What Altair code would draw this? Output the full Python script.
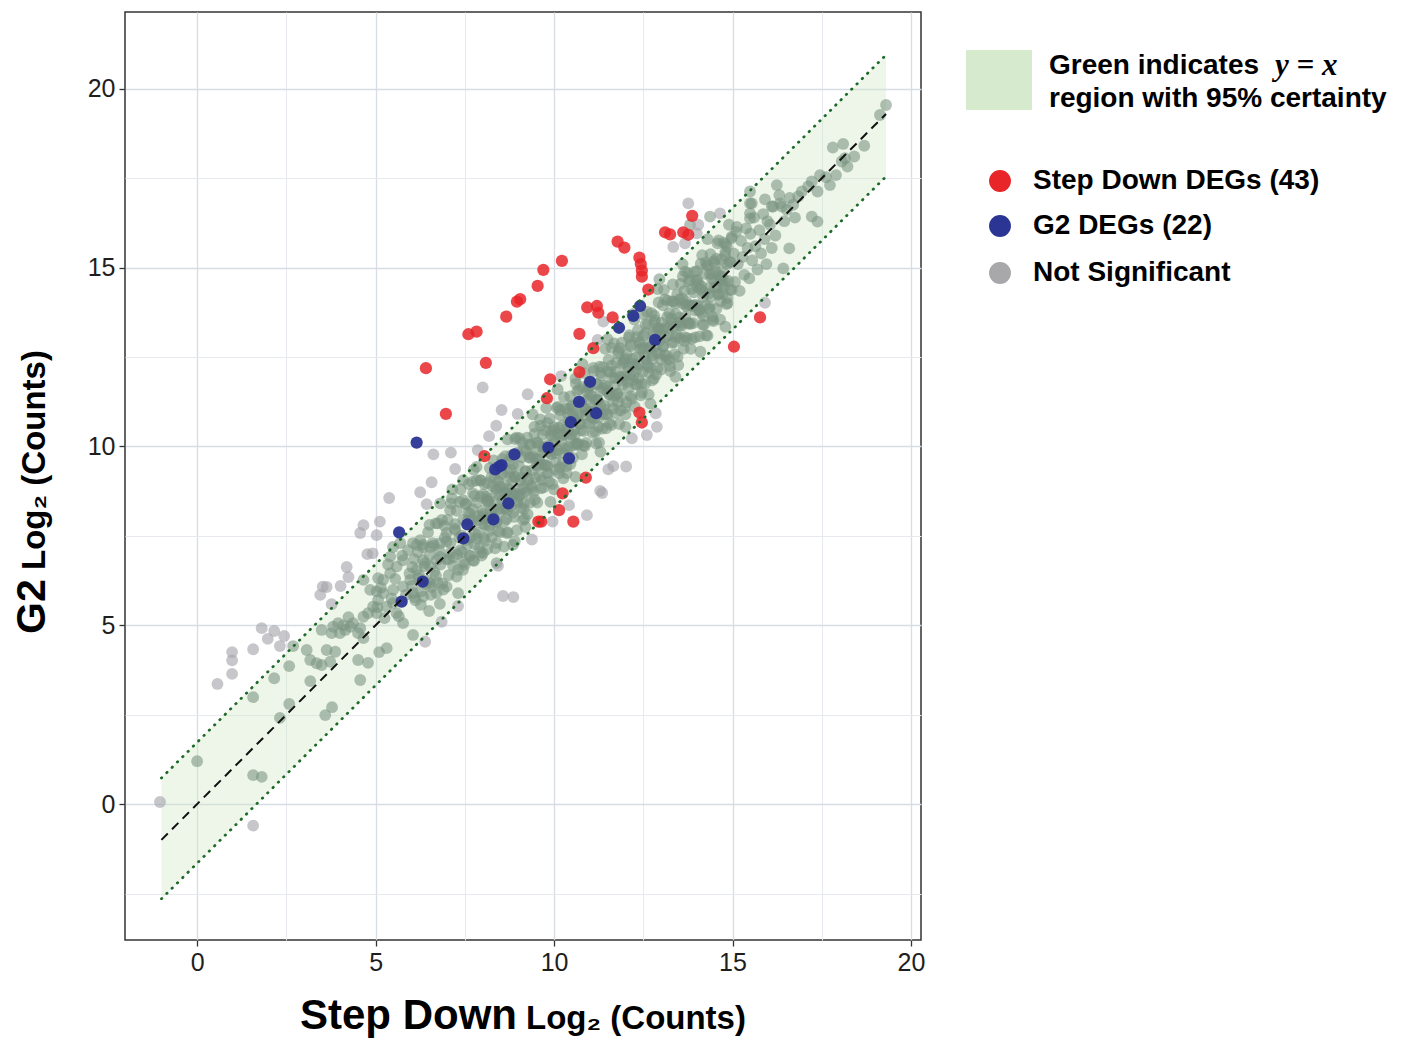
import altair as alt
import pandas as pd

FONT = "Liberation Sans"

# ---------------- axes ----------------
X_DOMAIN = [-2.02, 20.28]
Y_DOMAIN = [-3.8, 22.15]
X_TICKS = [0, 2.5, 5, 7.5, 10, 12.5, 15, 17.5, 20]
Y_TICKS = [-2.5, 0, 2.5, 5, 7.5, 10, 12.5, 15, 17.5, 20]

# ---------------- y = x band ----------------
BAND_X = [-1.0, 19.3]
BAND_LO = [-2.65, 17.55]
BAND_HI = [0.73, 20.95]
DIAG_Y = [-1.0, 19.3]

# ---------------- DEGs ----------------
STEP_DOWN_DEGS = [
    (6.41, 12.19), (6.97, 10.91), (7.60, 13.14), (7.83, 13.21), (8.09, 12.34),
    (8.66, 13.63), (8.96, 14.05), (9.05, 14.12), (9.54, 14.49), (9.70, 14.94),
    (10.22, 15.19), (10.71, 13.15), (10.93, 13.89), (11.20, 13.93), (11.24, 13.74),
    (11.64, 13.61), (11.10, 12.75), (10.71, 12.08), (9.89, 11.88), (9.80, 11.35),
    (8.05, 9.73), (10.89, 9.13), (10.24, 8.69), (10.14, 8.22), (10.54, 7.90),
    (9.56, 7.90), (9.64, 7.90), (12.39, 10.95), (12.46, 10.67), (11.78, 15.73),
    (11.97, 15.56), (12.39, 15.28), (12.43, 15.10), (12.46, 14.92), (12.46, 14.75),
    (12.64, 14.39), (13.11, 15.99), (13.25, 15.93), (13.62, 15.99), (13.76, 15.92),
    (13.87, 16.45), (15.77, 13.61), (15.04, 12.79),
]
G2_DEGS = [
    (6.15, 10.11), (5.66, 7.60), (12.41, 13.93), (12.22, 13.65), (11.82, 13.32),
    (12.83, 12.98), (11.01, 11.81), (10.70, 11.25), (11.18, 10.93), (10.47, 10.68),
    (9.84, 9.97), (8.89, 9.78), (8.53, 9.48), (8.35, 9.36), (8.47, 9.44),
    (10.42, 9.67), (8.72, 8.41), (8.30, 7.96), (7.57, 7.82), (7.46, 7.43),
    (6.32, 6.22), (5.73, 5.66),
]

# ---------------- not significant, outside the band ----------------
NS_OUTSIDE = [
    (-1.04, 0.06), (1.57, -0.60), (0.57, 3.36), (0.98, 3.64), (0.98, 4.02), (0.98, 4.25),
    (1.57, 4.33), (1.81, 4.92), (2.16, 4.84), (1.98, 4.62), (2.44, 4.70), (2.32, 4.42),
    (3.52, 6.08), (3.63, 6.07), (3.45, 5.85), (3.77, 5.59), (4.19, 6.63), (4.24, 6.35),
    (4.02, 6.10), (4.57, 7.58), (4.66, 7.80), (5.12, 7.90), (5.03, 7.52), (4.77, 6.99),
    (4.92, 7.01), (5.38, 8.56), (6.25, 8.72), (6.57, 9.00), (6.43, 8.39), (7.23, 9.37),
    (8.57, 5.82), (8.86, 5.79), (6.39, 4.54), (6.85, 5.10), (7.31, 5.54), (8.43, 6.66),
    (8.00, 11.65), (9.26, 11.46), (8.53, 11.02), (8.38, 10.58), (8.18, 10.29), (7.86, 9.90),
    (7.11, 9.83), (6.62, 9.78), (10.20, 11.97), (11.22, 12.98), (11.38, 13.49),
    (13.34, 15.58), (13.67, 15.68), (13.76, 16.80), (14.04, 16.20), (14.65, 16.52),
    (14.00, 15.96), (15.91, 14.02), (11.66, 9.45), (11.52, 9.36), (12.02, 9.44),
    (12.60, 10.32), (12.88, 10.55), (12.85, 10.93), (12.18, 10.23), (11.29, 8.76),
    (11.35, 8.70), (10.42, 8.36), (10.92, 8.08), (9.96, 7.90), (9.38, 7.40), (8.98, 10.91),
]

# ---------------- not significant, inside the band ----------------
NS_BAND_LOW = [
    (0.00, 1.20), (1.57, 0.81), (1.81, 0.76), (2.32, 2.41), (2.58, 2.80), (1.57, 2.99),
    (3.59, 2.49), (3.78, 2.71), (2.16, 3.52), (2.69, 4.42), (2.58, 3.86), (3.17, 3.44),
    (3.07, 4.31), (3.17, 4.03), (3.35, 3.94), (3.49, 3.89), (3.73, 3.98), (3.63, 4.31),
    (3.87, 4.26), (3.77, 4.78), (3.49, 4.87), (4.00, 4.78), (4.10, 5.00), (4.29, 4.96),
    (4.57, 4.92), (4.66, 4.64), (4.24, 5.23), (4.57, 3.47), (4.51, 4.03), (4.79, 3.95),
    (5.10, 4.25), (5.31, 4.36), (3.81, 4.96), (3.95, 5.06), (4.15, 4.87), (4.37, 5.06),
    (4.51, 4.78), (4.66, 5.24), (4.79, 5.34), (4.93, 5.52), (5.07, 5.71), (5.21, 5.90),
    (5.03, 5.34), (5.31, 5.52), (5.49, 5.62), (5.59, 5.34), (5.77, 5.06), (6.05, 4.73),
    (6.50, 5.40), (6.80, 5.60),
]
NS_BAND_5_8 = [
    (4.66, 6.27), (4.85, 5.99), (5.07, 6.32), (5.03, 5.95), (5.21, 6.27), (5.41, 6.46),
    (5.59, 6.64), (5.77, 6.82), (5.91, 7.10), (6.05, 7.30), (6.25, 7.38), (6.33, 6.82),
    (6.53, 6.64), (6.71, 6.82), (6.53, 7.19), (6.81, 7.30), (6.99, 7.58), (7.23, 7.66),
    (7.09, 7.02), (7.37, 7.10), (6.15, 6.55), (5.97, 6.27), (5.77, 6.08), (5.49, 5.99),
    (6.05, 5.90), (6.33, 5.80), (6.71, 5.90), (6.99, 6.08), (6.53, 6.18), (7.27, 6.36),
    (7.45, 6.55), (7.31, 5.90), (7.73, 6.82), (8.01, 7.02), (8.39, 7.30), (8.68, 7.58),
    (8.96, 7.66), (9.13, 7.94), (8.85, 7.25), (8.39, 6.74), (5.69, 7.30), (5.49, 7.19),
    (5.41, 6.92), (7.09, 8.22), (7.45, 8.50), (7.73, 8.69), (7.93, 9.06), (7.45, 9.06),
    (7.15, 8.80), (8.12, 8.50), (8.39, 8.78), (8.85, 9.06), (9.13, 8.69), (8.68, 8.22),
    (8.01, 8.04), (7.65, 8.13), (6.81, 8.41), (7.75, 9.35), (7.83, 9.43),
    (5.05, 5.50), (5.15, 6.05), (5.25, 5.20), (5.35, 6.70), (5.45, 5.75), (5.55, 6.30),
    (5.65, 5.25), (5.75, 6.95), (5.85, 5.85), (5.95, 6.45),
    (6.02, 6.10), (6.08, 6.85), (6.12, 5.70), (6.18, 7.05), (6.22, 6.40), (6.28, 5.95),
    (6.33, 7.25), (6.37, 6.65), (6.42, 6.15), (6.47, 7.60), (6.51, 6.95), (6.55, 5.85),
    (6.60, 7.30), (6.64, 6.50), (6.69, 7.85), (6.73, 6.20), (6.78, 7.10), (6.82, 6.70),
    (6.86, 7.95), (6.90, 6.00), (6.94, 7.45), (6.98, 6.85),
    (7.02, 7.95), (7.05, 6.40), (7.10, 7.30), (7.14, 8.55), (7.18, 6.90), (7.22, 7.70),
    (7.27, 8.20), (7.31, 6.55), (7.35, 7.45), (7.38, 8.80), (7.42, 7.05), (7.46, 7.95),
    (7.50, 6.70), (7.53, 8.40), (7.57, 7.25), (7.61, 8.95), (7.64, 6.95), (7.68, 7.80),
    (7.72, 8.25), (7.76, 6.80), (7.80, 7.55), (7.83, 9.05), (7.87, 8.05), (7.90, 7.15),
    (7.94, 8.60), (7.97, 6.95), (7.99, 7.85),
]
NS_BAND_6_9_FILL = [
    (6.03, 6.63), (6.09, 5.79), (6.15, 7.25), (6.21, 6.31), (6.27, 5.57), (6.33, 7.18),
    (6.39, 6.74), (6.45, 6.25), (6.51, 7.81), (6.57, 6.07), (6.63, 7.23), (6.69, 6.39),
    (6.75, 7.85), (6.81, 6.91), (6.87, 6.17), (6.93, 7.78), (6.99, 7.34), (7.05, 6.85),
    (7.11, 8.41), (7.17, 6.67), (7.23, 7.83), (7.29, 6.99), (7.35, 8.45), (7.41, 7.51),
    (7.47, 6.77), (7.53, 8.38), (7.59, 7.94), (7.65, 7.45), (7.71, 9.01), (7.77, 7.27),
    (7.83, 8.43), (7.89, 7.59), (7.95, 9.05), (8.01, 8.11), (8.07, 7.37), (8.13, 8.98),
    (8.19, 8.54), (8.25, 8.05), (8.31, 9.61), (8.37, 7.87), (8.43, 9.03), (8.49, 8.19),
    (8.55, 9.65), (8.61, 8.71), (8.67, 7.97), (8.73, 9.58), (8.79, 9.14), (8.85, 8.65),
    (8.91, 10.21), (8.97, 8.47),
]
NS_BAND_8_10 = [
    (8.00, 8.20), (8.03, 7.43), (8.05, 8.95), (8.08, 7.98), (8.10, 8.60), (8.13, 7.13),
    (8.15, 8.45), (8.18, 7.78), (8.20, 9.40), (8.23, 8.23), (8.25, 7.45), (8.28, 8.88),
    (8.30, 8.00), (8.33, 9.13), (8.35, 7.15), (8.38, 8.48), (8.40, 7.90), (8.43, 9.43),
    (8.45, 8.25), (8.48, 8.88), (8.50, 7.60), (8.53, 9.23), (8.55, 8.50), (8.58, 8.93),
    (8.60, 7.90), (8.63, 9.73), (8.65, 8.30), (8.68, 8.83), (8.70, 7.60), (8.73, 9.28),
    (8.75, 8.80), (8.78, 8.33), (8.80, 9.75), (8.83, 8.68), (8.85, 9.50), (8.88, 8.03),
    (8.90, 9.15), (8.93, 8.68), (8.95, 10.25), (8.98, 8.43),
    (9.00, 8.60), (9.03, 10.23), (9.05, 9.05), (9.08, 8.28), (9.10, 9.70), (9.13, 8.83),
    (9.15, 9.95), (9.18, 7.98), (9.20, 9.30), (9.23, 8.73), (9.25, 10.25), (9.28, 9.08),
    (9.30, 9.70), (9.33, 8.43), (9.35, 10.05), (9.38, 9.33), (9.40, 9.75), (9.43, 8.73),
    (9.45, 10.55), (9.48, 9.13), (9.50, 9.65), (9.53, 8.43), (9.55, 10.10), (9.58, 9.63),
    (9.60, 9.15), (9.63, 10.58), (9.65, 9.50), (9.68, 10.33), (9.70, 8.85), (9.73, 9.98),
    (9.75, 9.50), (9.78, 11.08), (9.80, 9.25), (9.83, 10.03), (9.85, 9.25), (9.88, 10.78),
    (9.90, 9.80), (9.93, 10.43), (9.95, 8.95), (9.98, 10.28),
]
NS_BAND_10_12 = [
    (10.00, 8.80), (10.03, 10.13), (10.05, 9.55), (10.08, 11.08), (10.10, 9.90), (10.13, 10.53),
    (10.15, 9.25), (10.18, 10.88), (10.20, 10.15), (10.23, 10.58), (10.25, 9.55), (10.28, 11.38),
    (10.30, 9.95), (10.33, 10.48), (10.35, 9.25), (10.38, 10.93), (10.40, 10.45), (10.43, 9.98),
    (10.45, 11.40), (10.48, 10.33), (10.50, 11.15), (10.53, 9.68), (10.55, 10.80), (10.58, 10.33),
    (10.60, 11.90), (10.63, 10.08), (10.65, 10.85), (10.68, 10.08), (10.70, 11.60), (10.73, 10.63),
    (10.75, 11.25), (10.78, 9.78), (10.80, 11.10), (10.83, 10.43), (10.85, 12.05), (10.88, 10.88),
    (10.90, 10.10), (10.93, 11.53), (10.95, 10.65), (10.98, 11.78),
    (11.00, 11.70), (11.03, 10.98), (11.05, 11.40), (11.08, 10.38), (11.10, 12.20), (11.13, 10.78),
    (11.15, 11.30), (11.18, 10.08), (11.20, 11.75), (11.23, 11.28), (11.25, 10.80), (11.28, 12.23),
    (11.30, 11.15), (11.33, 11.98), (11.35, 10.50), (11.38, 11.63), (11.40, 11.15), (11.43, 12.73),
    (11.45, 10.90), (11.48, 11.68), (11.50, 10.90), (11.53, 12.43), (11.55, 11.45), (11.58, 12.08),
    (11.60, 10.60), (11.63, 11.93), (11.65, 11.25), (11.68, 12.88), (11.70, 11.70), (11.73, 10.93),
    (11.75, 12.35), (11.78, 11.48), (11.80, 12.60), (11.83, 10.63), (11.85, 11.95), (11.88, 11.38),
    (11.90, 12.90), (11.93, 11.73), (11.95, 12.35), (11.98, 11.08),
]
NS_BAND_12_14 = [
    (12.00, 10.90), (12.03, 12.58), (12.05, 12.10), (12.08, 11.63), (12.10, 13.05), (12.13, 11.98),
    (12.15, 12.80), (12.18, 11.33), (12.20, 12.45), (12.23, 11.98), (12.25, 13.55), (12.28, 11.73),
    (12.30, 12.50), (12.33, 11.73), (12.35, 13.25), (12.38, 12.28), (12.40, 12.90), (12.43, 11.43),
    (12.45, 12.75), (12.48, 12.08), (12.50, 13.70), (12.53, 12.53), (12.55, 11.75), (12.58, 13.18),
    (12.60, 12.30), (12.63, 13.43), (12.65, 11.45), (12.68, 12.78), (12.70, 12.20), (12.73, 13.73),
    (12.75, 12.55), (12.78, 13.18), (12.80, 11.90), (12.83, 13.53), (12.85, 12.80), (12.88, 13.23),
    (12.90, 12.20), (12.93, 14.03), (12.95, 12.60), (12.98, 13.13),
    (13.00, 12.15), (13.03, 13.28), (13.05, 12.80), (13.08, 14.38), (13.10, 12.55), (13.13, 13.33),
    (13.15, 12.55), (13.18, 14.08), (13.20, 13.10), (13.23, 13.73), (13.25, 12.25), (13.28, 13.58),
    (13.30, 12.90), (13.33, 14.53), (13.35, 13.35), (13.38, 12.58), (13.40, 14.00), (13.43, 13.13),
    (13.45, 14.25), (13.48, 12.28), (13.50, 13.60), (13.53, 13.03), (13.55, 14.55), (13.58, 13.38),
    (13.60, 14.00), (13.63, 12.73), (13.65, 14.35), (13.68, 13.63), (13.70, 14.05), (13.73, 13.03),
    (13.75, 14.85), (13.78, 13.43), (13.80, 13.95), (13.83, 12.73), (13.85, 14.40), (13.88, 13.93),
    (13.90, 13.45), (13.93, 14.88), (13.95, 13.80), (13.98, 14.63),
]
NS_BAND_9_15_FILL = [
    (9.01, 9.46), (9.06, 8.81), (9.11, 10.11), (9.16, 8.41), (9.21, 9.31), (9.26, 8.11),
    (9.31, 10.06), (9.36, 8.91), (9.41, 9.71), (9.46, 8.51), (9.51, 10.11), (9.56, 9.46),
    (9.61, 10.76), (9.66, 9.06), (9.71, 9.91), (9.76, 9.46), (9.81, 10.66), (9.86, 9.01),
    (9.91, 10.31), (9.96, 9.96), (10.01, 10.46), (10.06, 9.81), (10.11, 11.11), (10.16, 9.41),
    (10.21, 10.31), (10.26, 9.11), (10.31, 11.06), (10.36, 9.91), (10.41, 10.71), (10.46, 9.51),
    (10.51, 11.11), (10.56, 10.46), (10.61, 11.76), (10.66, 10.06), (10.71, 10.91), (10.76, 10.46),
    (10.81, 11.66), (10.86, 10.01), (10.91, 11.31), (10.96, 10.96), (11.01, 11.46), (11.06, 10.81),
    (11.11, 12.11), (11.16, 10.41), (11.21, 11.31), (11.26, 10.11), (11.31, 12.06), (11.36, 10.91),
    (11.41, 11.71), (11.46, 10.51), (11.51, 12.11), (11.56, 11.46), (11.61, 12.76), (11.66, 11.06),
    (11.71, 11.91), (11.76, 11.46), (11.81, 12.66), (11.86, 11.01), (11.91, 12.31), (11.96, 11.96),
    (12.01, 12.46), (12.06, 11.81), (12.11, 13.11), (12.16, 11.41), (12.21, 12.31), (12.26, 11.11),
    (12.31, 13.06), (12.36, 11.91), (12.41, 12.71), (12.46, 11.51), (12.51, 13.11), (12.56, 12.46),
    (12.61, 13.76), (12.66, 12.06), (12.71, 12.91), (12.76, 12.46), (12.81, 13.66), (12.86, 12.01),
    (12.91, 13.31), (12.96, 12.96), (13.01, 13.46), (13.06, 12.81), (13.11, 14.11), (13.16, 12.41),
    (13.21, 13.31), (13.26, 12.11), (13.31, 14.06), (13.36, 12.91), (13.41, 13.71), (13.46, 12.51),
    (13.51, 14.11), (13.56, 13.46), (13.61, 14.76), (13.66, 13.06), (13.71, 13.91), (13.76, 13.46),
    (13.81, 14.66), (13.86, 13.01), (13.91, 14.31), (13.96, 13.96), (14.01, 14.46), (14.06, 13.81),
    (14.11, 15.11), (14.16, 13.41), (14.21, 14.31), (14.26, 13.11), (14.31, 15.06), (14.36, 13.91),
    (14.41, 14.71), (14.46, 13.51), (14.51, 15.11), (14.56, 14.46), (14.61, 15.76), (14.66, 14.06),
    (14.71, 14.91), (14.76, 14.46), (14.81, 15.66), (14.86, 14.01),
]
NS_BAND_CORE_FILL = [
    (7.53, 7.38), (7.59, 8.14), (7.65, 6.95), (7.71, 7.96), (7.77, 8.62), (7.83, 7.43),
    (7.89, 7.94), (7.95, 7.05), (8.01, 8.66), (8.07, 7.82), (8.13, 8.48), (8.19, 7.64),
    (8.25, 9.15), (8.31, 8.26), (8.37, 8.82), (8.43, 7.63), (8.49, 8.64), (8.55, 9.25),
    (8.61, 8.26), (8.67, 8.67), (8.73, 8.58), (8.79, 9.34), (8.85, 8.15), (8.91, 9.16),
    (8.97, 9.82), (9.03, 8.63), (9.09, 9.14), (9.15, 8.25), (9.21, 9.86), (9.27, 9.02),
    (9.33, 9.68), (9.39, 8.84), (9.45, 10.35), (9.51, 9.46), (9.57, 10.02), (9.63, 8.83),
    (9.69, 9.84), (9.75, 10.45), (9.81, 9.46), (9.87, 9.87), (9.93, 9.78), (9.99, 10.54),
    (10.05, 9.35), (10.11, 10.36), (10.17, 11.02), (10.23, 9.83), (10.29, 10.34), (10.35, 9.45),
    (10.41, 11.06), (10.47, 10.22), (10.53, 10.88), (10.59, 10.04), (10.65, 11.55), (10.71, 10.66),
    (10.77, 11.22), (10.83, 10.03), (10.89, 11.04), (10.95, 11.65), (11.01, 10.66), (11.07, 11.07),
    (11.13, 10.98), (11.19, 11.74), (11.25, 10.55), (11.31, 11.56), (11.37, 12.22), (11.43, 11.03),
    (11.49, 11.54), (11.55, 10.65), (11.61, 12.26), (11.67, 11.42), (11.73, 12.08), (11.79, 11.24),
    (11.85, 12.75), (11.91, 11.86), (11.97, 12.42), (12.03, 11.23), (12.09, 12.24), (12.15, 12.85),
    (12.21, 11.86), (12.27, 12.27), (12.33, 12.18), (12.39, 12.94), (12.45, 11.75), (12.51, 12.76),
    (12.57, 13.42), (12.63, 12.23), (12.69, 12.74), (12.75, 11.85), (12.81, 13.46), (12.87, 12.62),
    (12.93, 13.28), (12.99, 12.44), (13.05, 13.95), (13.11, 13.06), (13.17, 13.62), (13.23, 12.43),
    (13.29, 13.44), (13.35, 14.05), (13.41, 13.06), (13.47, 13.47), (13.53, 13.38), (13.59, 14.14),
    (13.65, 12.95), (13.71, 13.96), (13.77, 14.62), (13.83, 13.43), (13.89, 13.94), (13.95, 13.05),
    (14.01, 14.66), (14.07, 13.82), (14.13, 14.48), (14.19, 13.64), (14.25, 15.15), (14.31, 14.26),
    (14.37, 14.82), (14.43, 13.63), (14.49, 14.64), (14.55, 15.25), (14.61, 14.26), (14.67, 14.67),
    (14.73, 14.58), (14.79, 15.34), (14.85, 14.15), (14.91, 15.16), (14.97, 15.82),
]
NS_BAND_14_16 = [
    (14.00, 14.90), (14.03, 13.93), (14.05, 14.55), (14.08, 13.08), (14.10, 14.40), (14.13, 13.73),
    (14.15, 15.35), (14.18, 14.18), (14.20, 13.40), (14.23, 14.83), (14.25, 13.95), (14.28, 15.08),
    (14.30, 13.10), (14.33, 14.43), (14.35, 13.85), (14.38, 15.38), (14.40, 14.20), (14.43, 14.83),
    (14.45, 13.55), (14.48, 15.18), (14.50, 14.45), (14.53, 14.88), (14.55, 13.85), (14.58, 15.68),
    (14.60, 14.25), (14.63, 14.78), (14.65, 13.55), (14.68, 15.23), (14.70, 14.75), (14.73, 14.28),
    (14.75, 15.70), (14.78, 14.63), (14.80, 15.45), (14.83, 13.98), (14.85, 15.10), (14.88, 14.63),
    (14.90, 16.20), (14.93, 14.38), (14.95, 15.15), (14.98, 14.38),
    (15.03, 15.40), (15.07, 14.60), (15.10, 16.00), (15.15, 15.10), (15.20, 14.35), (15.24, 15.75),
    (15.28, 15.30), (15.33, 14.80), (15.38, 16.10), (15.42, 15.55), (15.47, 14.70), (15.50, 15.95),
    (15.55, 15.20), (15.60, 16.40), (15.64, 15.60), (15.70, 14.95), (15.75, 16.05), (15.80, 15.40),
    (15.86, 16.50), (15.90, 15.80), (15.95, 15.10), (15.98, 16.30),
    (15.12, 16.14), (14.98, 15.87), (14.84, 15.59), (15.49, 17.13), (15.49, 16.80), (15.49, 16.38),
    (15.54, 16.80), (15.49, 16.52), (15.91, 16.91), (13.67, 14.89), (12.95, 14.68), (14.37, 16.43),
    (13.81, 16.20),
]
NS_BAND_HIGH = [
    (16.10, 16.71), (16.24, 17.31), (16.31, 17.03), (16.33, 16.80), (16.14, 16.71), (16.38, 16.71),
    (16.52, 16.62), (16.59, 15.54), (16.42, 14.98), (16.05, 16.20), (16.20, 15.90), (16.45, 16.30),
    (16.60, 16.95), (16.75, 16.40), (16.10, 15.55), (16.94, 17.13), (16.84, 16.99), (16.70, 16.76),
    (17.22, 17.41), (17.12, 17.27), (17.38, 17.13), (17.22, 16.43), (17.38, 16.29), (17.73, 17.31),
    (17.62, 17.53), (17.45, 17.59), (17.90, 17.59), (18.15, 18.06), (18.22, 17.83), (18.06, 17.97),
    (18.41, 18.11), (17.81, 18.36), (18.10, 18.46), (18.69, 18.41), (19.13, 19.27), (19.30, 19.55),
]
NS_BAND_EDGES = [
    (9.20, 7.75), (9.90, 8.45), (10.60, 9.15), (11.30, 9.85), (12.00, 10.55), (12.70, 11.20),
    (13.40, 11.95), (14.10, 12.65), (14.80, 13.35), (8.60, 7.20), (8.90, 7.35),
    (8.70, 10.20), (9.40, 10.90), (10.10, 11.60), (10.80, 12.30), (11.50, 13.00), (12.20, 13.70),
    (12.90, 14.40), (13.60, 15.10), (14.30, 15.80),
]

# ---------------- legend ----------------
LEGEND_LABELS = ["Step Down DEGs (43)", "G2 DEGs (22)", "Not Significant"]
LEGEND_COLORS = ["#e8262a", "#2b3594", "#a8a8ab"]

C_BAND_PT = "#7a9581"
C_OUT_PT = "#a2a2a8"


def pts(rows):
    return pd.DataFrame(rows, columns=["x", "y"])


ns_band = pts(NS_BAND_LOW + NS_BAND_5_8 + NS_BAND_6_9_FILL + NS_BAND_8_10 + NS_BAND_10_12
              + NS_BAND_12_14 + NS_BAND_9_15_FILL + NS_BAND_CORE_FILL + NS_BAND_14_16
              + NS_BAND_HIGH + NS_BAND_EDGES)
ns_out = pts(NS_OUTSIDE)
red = pts(STEP_DOWN_DEGS)
blue = pts(G2_DEGS)
band = pd.DataFrame({"x": BAND_X, "lo": BAND_LO, "hi": BAND_HI, "d": DIAG_Y})
one = pd.DataFrame({"a": [0]})

MINOR = "datum.value % 5 !== 0"


def make_axis(vals):
    return alt.Axis(
        values=vals, grid=True, domain=False, title=None,
        labelExpr="datum.value % 5 === 0 ? datum.label : ''",
        labelFont=FONT, labelFontSize=25, labelColor="#1e1e1e", labelPadding=4,
        labelOverlap=False, labelFlush=False,
        tickSize=6, tickWidth=1.3, tickColor="#333333",
        tickOpacity={"condition": {"test": MINOR, "value": 0}, "value": 1},
        gridColor={"condition": {"test": MINOR, "value": "#e6e9ee"}, "value": "#d8dce4"},
        gridWidth={"condition": {"test": MINOR, "value": 1.0}, "value": 1.3},
    )


X = alt.X("x:Q", scale=alt.Scale(domain=X_DOMAIN, nice=False, zero=False), axis=make_axis(X_TICKS))
Y_SCALE = alt.Scale(domain=Y_DOMAIN, nice=False, zero=False)
Y_AXIS = make_axis(Y_TICKS)

band_area = alt.Chart(band).mark_area(color="#cfe8c6", opacity=0.38).encode(
    x=X, y=alt.Y("lo:Q", scale=Y_SCALE, axis=Y_AXIS), y2="hi:Q")

ns_band_layer = alt.Chart(ns_band).mark_circle(size=140, color=C_BAND_PT, opacity=0.58).encode(
    x=X, y=alt.Y("y:Q", scale=Y_SCALE, axis=Y_AXIS))
ns_out_layer = alt.Chart(ns_out).mark_circle(size=140, color=C_OUT_PT, opacity=0.6).encode(
    x=X, y=alt.Y("y:Q", scale=Y_SCALE, axis=Y_AXIS))
red_layer = alt.Chart(red).mark_circle(size=150, color=LEGEND_COLORS[0], opacity=0.85).encode(
    x=X, y=alt.Y("y:Q", scale=Y_SCALE, axis=Y_AXIS))
blue_layer = alt.Chart(blue).mark_circle(size=150, color=LEGEND_COLORS[1], opacity=0.95).encode(
    x=X, y=alt.Y("y:Q", scale=Y_SCALE, axis=Y_AXIS))

dot_style = dict(color="#1e6a28", strokeDash=[0.5, 7], strokeWidth=2.8, strokeCap="round")
lo_line = alt.Chart(band).mark_line(**dot_style).encode(
    x=X, y=alt.Y("lo:Q", scale=Y_SCALE, axis=Y_AXIS))
hi_line = alt.Chart(band).mark_line(**dot_style).encode(
    x=X, y=alt.Y("hi:Q", scale=Y_SCALE, axis=Y_AXIS))
diag = alt.Chart(band).mark_line(color="#111111", strokeDash=[9, 6], strokeWidth=2).encode(
    x=X, y=alt.Y("d:Q", scale=Y_SCALE, axis=Y_AXIS))


def txt(text, x, y, size, **kw):
    base = dict(text=text, font=FONT, fontSize=size, fontWeight="bold", color="#000000")
    base.update(kw)
    return alt.Chart(one).mark_text(**base).encode(x=alt.value(x), y=alt.value(y))


titles = [
    txt("Step Down", 392, 1017, 42, align="right", baseline="alphabetic"),
    txt("Log\u2082 (Counts)", 401, 1017, 33, align="left", baseline="alphabetic"),
    txt("G2", -80, 622, 41, align="left", baseline="alphabetic", angle=270),
    txt("Log\u2082 (Counts)", -80, 558, 33, align="left", baseline="alphabetic", angle=270),
]

legend = [
    alt.Chart(one).mark_rect(color="#d6eace").encode(
        x=alt.value(841), x2=alt.value(907), y=alt.value(38), y2=alt.value(98)),
    txt("Green indicates", 924, 54, 28, align="left", baseline="middle"),
    txt("y = x", 1150, 54, 31, align="left", baseline="middle",
        font="Liberation Serif", fontStyle="italic"),
    txt("region with 95% certainty", 924, 87, 28, align="left", baseline="middle"),
]
LEG_Y = [169, 214, 261]
for lab, col, ly in zip(LEGEND_LABELS, LEGEND_COLORS, LEG_Y):
    legend.append(alt.Chart(one).mark_circle(size=480, color=col, opacity=1).encode(
        x=alt.value(875), y=alt.value(ly)))
    legend.append(txt(lab, 908, ly, 28, align="left", baseline="middle"))

chart = alt.layer(
    band_area, ns_band_layer, ns_out_layer, red_layer, blue_layer,
    lo_line, hi_line, diag, *titles, *legend,
).properties(
    width=796, height=928,
    autosize=alt.AutoSizeParams(type="none"),
    padding={"left": 117, "top": 4, "right": 474, "bottom": 100},
).configure_view(stroke="#333333", strokeWidth=1.5)

chart.save("out.html", embed_options={"renderer": "svg", "actions": False})
